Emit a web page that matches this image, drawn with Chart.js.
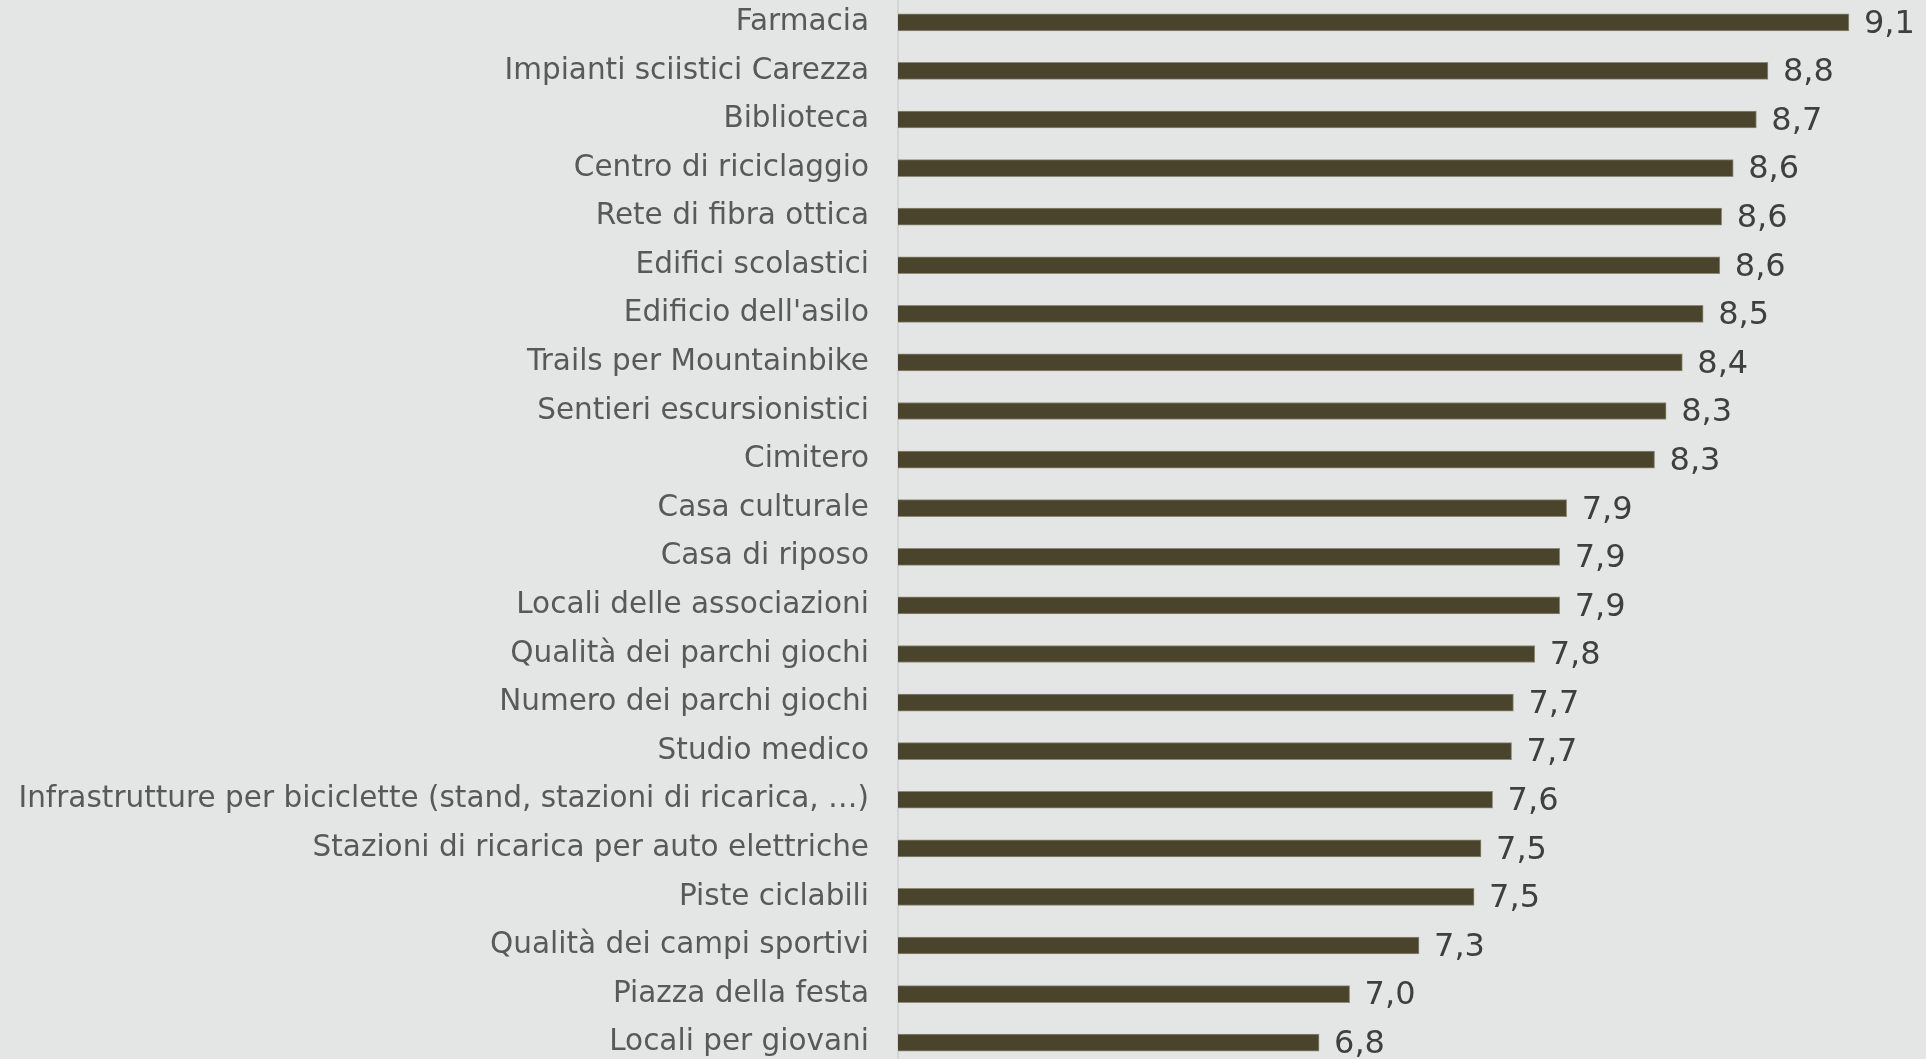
<!DOCTYPE html>
<html>
<head>
<meta charset="utf-8">
<script src="https://cdn.jsdelivr.net/npm/chart.js@4"></script>
<style>
    html, body { margin: 0; padding: 0; background: #e4e6e5; overflow: hidden; }
    #wrap { position: absolute; left: 0; top: -2px; width: 1926px; height: 1069px; }
</style>
</head>
<body>
<div id="wrap"><canvas id="barChart" width="1926" height="1069"></canvas></div>
<script>
// Categories, top to bottom
const categories = [
    'Farmacia',
    'Impianti sciistici Carezza',
    'Biblioteca',
    'Centro di riciclaggio',
    'Rete di fibra ottica',
    'Edifici scolastici',
    "Edificio dell'asilo",
    'Trails per Mountainbike',
    'Sentieri escursionistici',
    'Cimitero',
    'Casa culturale',
    'Casa di riposo',
    'Locali delle associazioni',
    'Qualità dei parchi giochi',
    'Numero dei parchi giochi',
    'Studio medico',
    'Infrastrutture per biciclette (stand, stazioni di ricarica, …)',
    'Stazioni di ricarica per auto elettriche',
    'Piste ciclabili',
    'Qualità dei campi sportivi',
    'Piazza della festa',
    'Locali per giovani'
];

// Average ratings
const ratings = [
    9.11, 8.76, 8.71, 8.61, 8.56, 8.552, 8.48, 8.39, 8.32, 8.27, 7.89,
    7.86, 7.86, 7.752, 7.66, 7.652, 7.57, 7.52, 7.49, 7.252, 6.952, 6.82
];

const axisMin = 5;
const axisMax = 9.4;

// Value labels at the end of each bar
const valueLabels = {
    id: 'valueLabels',
    afterDatasetsDraw(chart) {
        const ctx = chart.ctx;
        const meta = chart.getDatasetMeta(0);
        ctx.save();
        ctx.font = '32px "DejaVu Sans"';
        ctx.fillStyle = '#3f3f3f';
        ctx.textAlign = 'left';
        ctx.textBaseline = 'middle';
        meta.data.forEach((bar, i) => {
            const txt = ratings[i].toFixed(1).replace('.', ',');
            ctx.fillText(txt, bar.x + 15, bar.y + 2);
        });
        ctx.restore();
    }
};

const ctx = document.getElementById('barChart').getContext('2d');
new Chart(ctx, {
    type: 'bar',
    data: {
        labels: categories,
        datasets: [{
            data: ratings,
            backgroundColor: '#4a442d',
            borderColor: '#8c8873',
            borderWidth: { top: 1, bottom: 1, right: 1, left: 0 },
            borderSkipped: 'start',
            barThickness: 17
        }]
    },
    options: {
        indexAxis: 'y',
        responsive: false,
        animation: false,
        layout: { padding: { left: 0, top: 0, bottom: 0, right: 10 } },
        plugins: {
            legend: { display: false },
            tooltip: { enabled: false }
        },
        scales: {
            x: {
                display: false,
                min: axisMin,
                max: axisMax
            },
            y: {
                afterFit(scale) {
                    scale.width = 898;
                    scale.paddingTop = 0;
                    scale.paddingBottom = 0;
                },
                grid: { display: false, drawTicks: false },
                border: { display: true, color: '#d4d4d4', width: 2 },
                ticks: {
                    padding: 29,
                    color: '#595959',
                    font: { family: 'DejaVu Sans', size: 29.5 }
                }
            }
        }
    },
    plugins: [valueLabels]
});
</script>
</body>
</html>
